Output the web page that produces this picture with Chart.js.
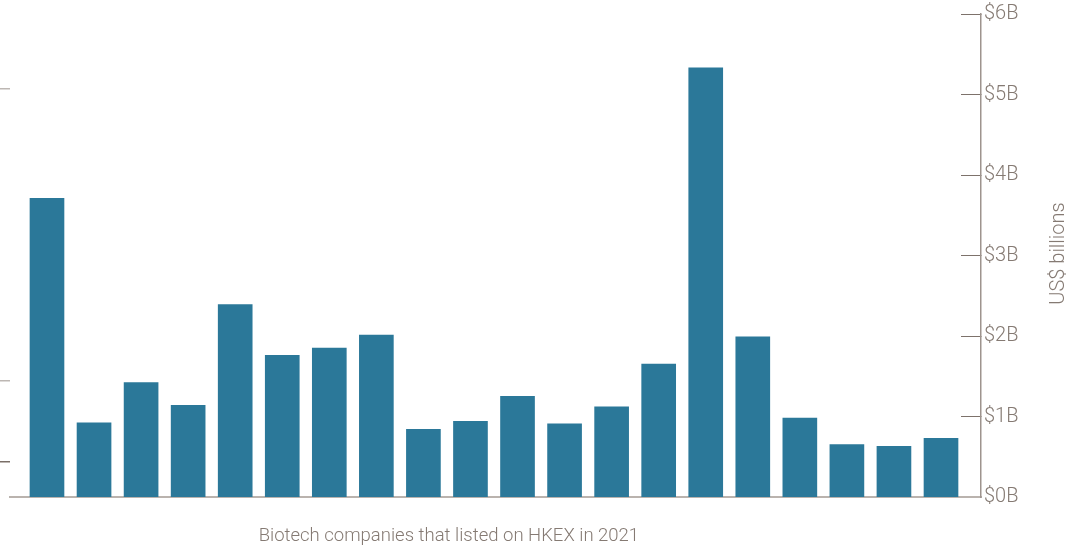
<!DOCTYPE html>
<html>
<head>
<meta charset="utf-8">
<script src="https://cdn.jsdelivr.net/npm/chart.js@4.4.1/dist/chart.umd.min.js"></script>
<style>
  html, body { margin: 0; padding: 0; background: #ffffff; }
  #wrap { width: 1083px; height: 546px; position: relative; }
</style>
</head>
<body>
<div id="wrap"><canvas id="c"></canvas></div>
<script>
// ---- data ----
const companies = ["Company 1","Company 2","Company 3","Company 4","Company 5","Company 6","Company 7","Company 8","Company 9","Company 10",
                   "Company 11","Company 12","Company 13","Company 14","Company 15","Company 16","Company 17","Company 18","Company 19","Company 20"];
const marketCapBillions = [3.71, 0.92, 1.42, 1.14, 2.39, 1.76, 1.85, 2.01, 0.84, 0.94,
                           1.25, 0.91, 1.12, 1.65, 5.33, 1.99, 0.98, 0.65, 0.63, 0.73];
const yTickValues = [0, 1, 2, 3, 4, 5, 6];
const leftStrayTickValues = [0.435, 1.44, 5.07];
const xAxisTitle = "Biotech companies that listed on HKEX in 2021";
const yAxisTitle = "US$ billions";

const TEXT = '#857a73';
const FONT = "Roboto, 'Liberation Sans', sans-serif";

const points = marketCapBillions.map((v, i) => ({ x: i, y: v }));

const titlePlugin = {
  id: 'titles',
  afterDraw(chart) {
    const { ctx, chartArea } = chart;
    ctx.save();
    ctx.fillStyle = TEXT;
    ctx.font = "300 18.5px " + FONT;
    ctx.textAlign = 'center';
    ctx.textBaseline = 'middle';
    // x-axis title below the plot
    ctx.fillText(xAxisTitle, chartArea.left + chartArea.width * 0.452, chartArea.bottom + 39);
    // y-axis title, reading bottom to top, right of the tick labels
    ctx.translate(chart.width - 24, (chartArea.top + chartArea.bottom) / 2 - 2);
    ctx.rotate(-Math.PI / 2);
    ctx.font = "300 20px " + FONT;
    ctx.fillText(yAxisTitle, 0, 0);
    ctx.restore();
  }
};

new Chart(document.getElementById('c'), {
  type: 'bar',
  data: {
    labels: companies,
    datasets: [{
      data: points,
      backgroundColor: '#2b7899',
      borderWidth: 0,
      barThickness: 34
    }]
  },
  options: {
    responsive: true,
    maintainAspectRatio: false,
    animation: false,
    layout: { padding: { top: 14, bottom: 49, left: 0, right: 0 } },
    plugins: { legend: { display: false }, tooltip: { enabled: false }, title: { display: false } },
    scales: {
      x: {
        type: 'linear',
        offset: false,
        min: -0.786,
        max: 19.85,
        ticks: { display: false },
        grid: { display: true, drawOnChartArea: false, drawTicks: false },
        border: { display: true, color: '#bab3ae', width: 2 },
        afterFit: (s) => { s.paddingLeft = 0; s.paddingRight = 0; }
      },
      yl: {
        position: 'left',
        min: 0,
        max: 6,
        afterBuildTicks: (s) => { s.ticks = leftStrayTickValues.map(v => ({ value: v })); },
        afterFit: (s) => { s.paddingTop = 0; s.paddingBottom = 0; },
        ticks: { display: false },
        grid: {
          drawOnChartArea: false,
          drawTicks: true,
          tickLength: 10,
          lineWidth: 1.5,
          color: (ctx) => (ctx.index === 0 ? '#7a6e67' : '#bdb7b3')
        },
        border: { display: false }
      },
      y: {
        position: 'right',
        min: 0,
        max: 6,
        afterBuildTicks: (s) => { s.ticks = yTickValues.map(v => ({ value: v })); },
        afterFit: (s) => { s.width = 102; s.paddingTop = 0; s.paddingBottom = 0; },
        ticks: {
          padding: 23,
          color: TEXT,
          font: { family: FONT, size: 20, weight: 300 },
          callback: (v) => '$' + v + 'B'
        },
        grid: {
          drawOnChartArea: false,
          drawTicks: true,
          tickLength: -20,
          color: '#7d726b',
          lineWidth: 1
        },
        border: { display: true, color: '#9e948e', width: 1.5 }
      }
    }
  },
  plugins: [titlePlugin]
});
</script>
</body>
</html>
